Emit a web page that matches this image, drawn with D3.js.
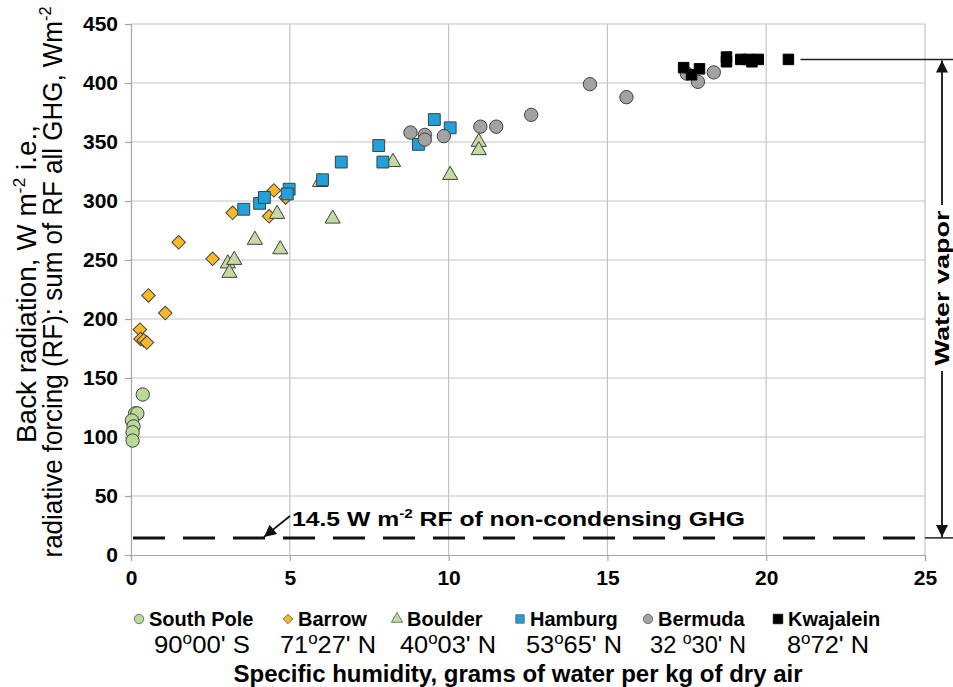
<!DOCTYPE html>
<html>
<head>
<meta charset="utf-8">
<script src="https://cdn.jsdelivr.net/npm/d3@7"></script>
<style>
  body { margin: 0; background: #fff; }
  svg { display: block; font-family: Arial, "Liberation Sans", sans-serif; }
</style>
</head>
<body>
<script>
// specific humidity (g/kg) vs back radiation (W m-2)
const southPole = [[0.37,136],[0.13,120],[0.2,120],[0.03,114],[0.08,109],[0.05,104],[0.05,97]]
const barrow = [[4.5,309],[3.2,290],[4.35,287],[4.87,303],[1.5,265],[2.57,251],[0.55,220],[1.08,205],[0.28,191],[0.3,183],[0.4,182],[0.5,180]]
const boulder = [[4.6,289],[6.35,285],[3.9,267],[4.7,259],[3.05,247],[3.25,250],[3.1,239],[5.95,316],[8.25,333],[10.05,322],[10.95,350],[10.95,343]]
const hamburg = [[3.55,293],[4.05,298],[4.2,303],[4.98,310],[4.92,306],[6.03,318],[6.62,333],[7.8,347],[7.93,333],[9.05,348],[9.55,369],[10.05,362]]
const bermuda = [[8.8,358],[9.25,356],[9.25,352],[9.85,355],[11.0,363],[11.5,363],[12.6,373],[14.45,399],[15.6,388],[17.5,408],[17.85,401],[18.35,409]]
const kwajalein = [[17.4,413],[17.65,407],[17.9,412],[18.75,422],[18.75,418],[19.2,420],[19.45,420],[19.55,418],[19.75,420],[20.7,420]]

const stations = ["South Pole", "Barrow", "Boulder", "Hamburg", "Bermuda", "Kwajalein"]
const latDeg = ["90", "71", "40", "53", "32 ", "8"]
const latRest = ["00' S", "27' N", "03' N", "65' N", "30' N", "72' N"]
const xTicks = [0, 5, 10, 15, 20, 25]
const yTicks = [0, 50, 100, 150, 200, 250, 300, 350, 400, 450]
const nonCondensing = 14.5   // W m-2
const waterVaporTop = 420

const W = 953, H = 687
const svg = d3.select("body").append("svg").attr("width", W).attr("height", H)

const x = d3.scaleLinear().domain([0, 25]).range([131, 925])
const y = d3.scaleLinear().domain([0, 450]).range([555, 24])

// grid
svg.append("g").selectAll("line").data(yTicks.slice(1)).enter().append("line")
  .attr("x1", x(0)).attr("x2", x(25))
  .attr("y1", d => y(d)).attr("y2", d => y(d))
  .attr("stroke", "#c4c4c4").attr("stroke-width", 1.2)
svg.append("g").selectAll("line").data(xTicks.slice(1)).enter().append("line")
  .attr("y1", y(0)).attr("y2", y(450))
  .attr("x1", d => x(d)).attr("x2", d => x(d))
  .attr("stroke", "#c4c4c4").attr("stroke-width", 1.2)

const yAxis = svg.append("g").attr("transform", "translate(" + x(0) + ",0)")
  .call(d3.axisLeft(y).tickValues(yTicks).tickSize(6).tickPadding(7))
const xAxis = svg.append("g").attr("transform", "translate(0," + y(0) + ")")
  .call(d3.axisBottom(x).tickValues(xTicks).tickSize(6).tickPadding(9))
;[yAxis, xAxis].forEach(g => {
  g.select(".domain").attr("stroke", "#a6a6a6").attr("stroke-width", 1.2)
  g.selectAll(".tick line").attr("stroke", "#a6a6a6").attr("stroke-width", 1.2)
  g.selectAll("text").attr("fill", "#000").style("font-size", "21px").style("font-weight", "bold")
})

// markers
const colors = ["#b9da97", "#f7b929", "#c3dba2", "#22a0dc", "#a2a2a2", "#000"]
const shapes = [d3.symbolCircle, d3.symbolSquare, d3.symbolTriangle, d3.symbolSquare, d3.symbolCircle, d3.symbolSquare]
const sizes = [140, 92, 100, 140, 140, 110]
const rot = [0, 45, 0, 0, 0, 0]
const series = [southPole, barrow, boulder, hamburg, bermuda, kwajalein]

series.forEach((data, i) => {
  svg.append("g").selectAll("path").data(data).enter().append("path")
    .attr("d", d3.symbol().type(shapes[i]).size(sizes[i]))
    .attr("transform", d => "translate(" + x(d[0]) + "," + y(d[1]) + ") rotate(" + rot[i] + ")")
    .attr("fill", colors[i])
    .attr("stroke", i == 5 ? "#000" : "#404040")
    .attr("stroke-width", 1)
})

// arrow heads
const defs = svg.append("defs")
defs.append("marker").attr("id", "arr").attr("viewBox", "0 0 10 10")
  .attr("refX", 10).attr("refY", 5)
  .attr("markerUnits", "userSpaceOnUse").attr("orient", "auto-start-reverse")
  .attr("markerWidth", 15).attr("markerHeight", 12)
  .append("path").attr("d", "M0,0 L10,5 L0,10 z").attr("fill", "#111")

// non-condensing GHG dashed line
svg.append("line")
  .attr("x1", x(0) + 2).attr("x2", x(25))
  .attr("y1", y(nonCondensing)).attr("y2", y(nonCondensing))
  .attr("stroke", "#111").attr("stroke-width", 3).attr("stroke-dasharray", "32,18")
svg.append("line")
  .attr("x1", x(25)).attr("x2", W)
  .attr("y1", y(nonCondensing)).attr("y2", y(nonCondensing))
  .attr("stroke", "#222").attr("stroke-width", 1.5)

const note = svg.append("text").attr("x", 292).attr("y", 526)
  .attr("textLength", 453).attr("lengthAdjust", "spacingAndGlyphs")
  .style("font-size", "21px").style("font-weight", "bold")
note.append("tspan").text("14.5 W m")
note.append("tspan").attr("dy", -8).style("font-size", "13px").text("-2")
note.append("tspan").attr("dy", 8).text("  RF of non-condensing GHG")
svg.append("line").attr("x1", 290).attr("y1", 516).attr("x2", 264).attr("y2", y(nonCondensing) - 1)
  .attr("stroke", "#111").attr("stroke-width", 1.8).attr("marker-end", "url(#arr)")

// water vapor bracket
const bx = 942
svg.append("line")
  .attr("x1", x(20.7) + 12).attr("x2", W)
  .attr("y1", y(waterVaporTop)).attr("y2", y(waterVaporTop))
  .attr("stroke", "#222").attr("stroke-width", 1.5)
svg.append("line").attr("x1", bx).attr("x2", bx)
  .attr("y1", y(waterVaporTop) + 1).attr("y2", y(nonCondensing) - 1)
  .attr("stroke", "#111").attr("stroke-width", 1.8)
  .attr("marker-start", "url(#arr)").attr("marker-end", "url(#arr)")
svg.append("rect").attr("x", bx - 11).attr("y", 205).attr("width", 22).attr("height", 166).attr("fill", "#fff")
svg.append("text").attr("transform", "translate(" + (bx + 7) + ",288) rotate(-90)")
  .attr("text-anchor", "middle").attr("textLength", 155).attr("lengthAdjust", "spacingAndGlyphs")
  .style("font-size", "20px").style("font-weight", "bold").text("Water vapor")

// y title
const yt1 = svg.append("text").attr("transform", "translate(36,284) rotate(-90)")
  .attr("text-anchor", "middle").attr("textLength", 318).attr("lengthAdjust", "spacingAndGlyphs")
  .style("font-size", "27px")
yt1.append("tspan").text("Back radiation, W m")
yt1.append("tspan").attr("dy", -11).style("font-size", "17px").text("-2")
yt1.append("tspan").attr("dy", 11).text(" i.e.,")
const yt2 = svg.append("text").attr("transform", "translate(62,282) rotate(-90)")
  .attr("text-anchor", "middle").attr("textLength", 551).attr("lengthAdjust", "spacingAndGlyphs")
  .style("font-size", "27px")
yt2.append("tspan").text("radiative forcing (RF): sum of RF all GHG, Wm")
yt2.append("tspan").attr("dy", -11).style("font-size", "17px").text("-2")

// legend
const legMarkX = [139, 288, 397, 520, 648, 778]
const legLatX = [202, 328, 448, 574, 698, 828]
const legSizes = [70, 46, 55, 70, 70, 90]
stations.forEach((s, i) => {
  svg.append("path")
    .attr("d", d3.symbol().type(shapes[i]).size(legSizes[i]))
    .attr("transform", "translate(" + legMarkX[i] + ",619) rotate(" + rot[i] + ")")
    .attr("fill", colors[i]).attr("stroke", i == 5 ? "#000" : "#555").attr("stroke-width", 0.8)
  svg.append("text").attr("x", legMarkX[i] + 10).attr("y", 626)
    .style("font-size", "20px").style("font-weight", "bold").text(s)
  const t = svg.append("text").attr("x", legLatX[i]).attr("y", 653)
    .attr("text-anchor", "middle").attr("textLength", i == 5 ? 82 : 96).attr("lengthAdjust", "spacingAndGlyphs")
    .style("font-size", "24px")
  t.append("tspan").text(latDeg[i])
  t.append("tspan").attr("dy", -9).style("font-size", "16px").text("o")
  t.append("tspan").attr("dy", 9).text(latRest[i])
})

svg.append("text").attr("x", 518).attr("y", 682).attr("text-anchor", "middle")
  .style("font-size", "24px").style("font-weight", "bold")
  .text("Specific humidity, grams of water per kg of dry air")
</script>
</body>
</html>
